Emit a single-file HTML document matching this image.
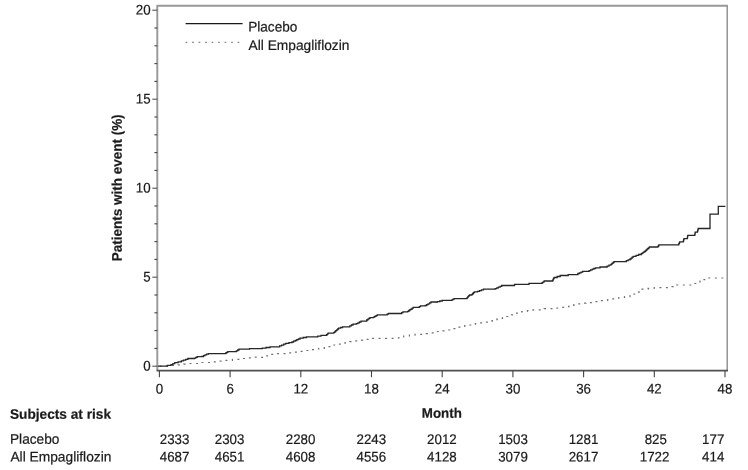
<!DOCTYPE html>
<html><head><meta charset="utf-8"><title>Kaplan-Meier</title>
<style>
html,body{margin:0;padding:0;background:#fff;}
svg{display:block;}
text{font-family:"Liberation Sans",sans-serif;font-size:13.33px;fill:#1a1a1a;stroke:#1a1a1a;stroke-width:0.2px;}
.b{font-weight:bold;}
</style></head><body>
<svg width="748" height="470" viewBox="0 0 748 470">
<rect x="0" y="0" width="748" height="470" fill="#ffffff"/>

<path d="M157.3,370.6 V5.7 H727.9" fill="none" stroke="#989898" stroke-width="1.9"/>
<path d="M727.2,5.7 V370.6" fill="none" stroke="#8c8c8c" stroke-width="1.4"/>
<line x1="156.6" y1="370.6" x2="728" y2="370.6" stroke="#505050" stroke-width="1.7"/>
<line x1="152.3" y1="366.2" x2="157.3" y2="366.2" stroke="#555" stroke-width="1.1"/>
<text transform="translate(150.6,370.5) rotate(0.03) scale(1.0,1.05)" text-anchor="end">0</text>
<line x1="154.4" y1="348.4" x2="157.3" y2="348.4" stroke="#444" stroke-width="1.1"/>
<line x1="154.4" y1="330.6" x2="157.3" y2="330.6" stroke="#444" stroke-width="1.1"/>
<line x1="154.4" y1="312.8" x2="157.3" y2="312.8" stroke="#444" stroke-width="1.1"/>
<line x1="154.4" y1="295.0" x2="157.3" y2="295.0" stroke="#444" stroke-width="1.1"/>
<line x1="152.3" y1="277.2" x2="157.3" y2="277.2" stroke="#555" stroke-width="1.1"/>
<text transform="translate(150.6,281.5) rotate(0.03) scale(1.0,1.05)" text-anchor="end">5</text>
<line x1="154.4" y1="259.4" x2="157.3" y2="259.4" stroke="#444" stroke-width="1.1"/>
<line x1="154.4" y1="241.6" x2="157.3" y2="241.6" stroke="#444" stroke-width="1.1"/>
<line x1="154.4" y1="223.8" x2="157.3" y2="223.8" stroke="#444" stroke-width="1.1"/>
<line x1="154.4" y1="206.0" x2="157.3" y2="206.0" stroke="#444" stroke-width="1.1"/>
<line x1="152.3" y1="188.2" x2="157.3" y2="188.2" stroke="#555" stroke-width="1.1"/>
<text transform="translate(150.6,192.5) rotate(0.03) scale(1.0,1.05)" text-anchor="end">10</text>
<line x1="154.4" y1="170.4" x2="157.3" y2="170.4" stroke="#444" stroke-width="1.1"/>
<line x1="154.4" y1="152.6" x2="157.3" y2="152.6" stroke="#444" stroke-width="1.1"/>
<line x1="154.4" y1="134.8" x2="157.3" y2="134.8" stroke="#444" stroke-width="1.1"/>
<line x1="154.4" y1="117.0" x2="157.3" y2="117.0" stroke="#444" stroke-width="1.1"/>
<line x1="152.3" y1="99.2" x2="157.3" y2="99.2" stroke="#555" stroke-width="1.1"/>
<text transform="translate(150.6,103.5) rotate(0.03) scale(1.0,1.05)" text-anchor="end">15</text>
<line x1="154.4" y1="81.4" x2="157.3" y2="81.4" stroke="#444" stroke-width="1.1"/>
<line x1="154.4" y1="63.6" x2="157.3" y2="63.6" stroke="#444" stroke-width="1.1"/>
<line x1="154.4" y1="45.8" x2="157.3" y2="45.8" stroke="#444" stroke-width="1.1"/>
<line x1="154.4" y1="28.0" x2="157.3" y2="28.0" stroke="#444" stroke-width="1.1"/>
<line x1="152.3" y1="10.2" x2="157.3" y2="10.2" stroke="#555" stroke-width="1.1"/>
<text transform="translate(150.6,14.5) rotate(0.03) scale(1.0,1.05)" text-anchor="end">20</text>
<line x1="159.4" y1="370.6" x2="159.4" y2="377.2" stroke="#444" stroke-width="1.1"/>
<text transform="translate(159.4,393.4) rotate(0.03) scale(1.0,1.05)" text-anchor="middle">0</text>
<line x1="230.1" y1="370.6" x2="230.1" y2="377.2" stroke="#444" stroke-width="1.1"/>
<text transform="translate(230.1,393.4) rotate(0.03) scale(1.0,1.05)" text-anchor="middle">6</text>
<line x1="300.8" y1="370.6" x2="300.8" y2="377.2" stroke="#444" stroke-width="1.1"/>
<text transform="translate(300.8,393.4) rotate(0.03) scale(1.0,1.05)" text-anchor="middle">12</text>
<line x1="371.5" y1="370.6" x2="371.5" y2="377.2" stroke="#444" stroke-width="1.1"/>
<text transform="translate(371.5,393.4) rotate(0.03) scale(1.0,1.05)" text-anchor="middle">18</text>
<line x1="442.2" y1="370.6" x2="442.2" y2="377.2" stroke="#444" stroke-width="1.1"/>
<text transform="translate(442.2,393.4) rotate(0.03) scale(1.0,1.05)" text-anchor="middle">24</text>
<line x1="512.9" y1="370.6" x2="512.9" y2="377.2" stroke="#444" stroke-width="1.1"/>
<text transform="translate(512.9,393.4) rotate(0.03) scale(1.0,1.05)" text-anchor="middle">30</text>
<line x1="583.6" y1="370.6" x2="583.6" y2="377.2" stroke="#444" stroke-width="1.1"/>
<text transform="translate(583.6,393.4) rotate(0.03) scale(1.0,1.05)" text-anchor="middle">36</text>
<line x1="654.3" y1="370.6" x2="654.3" y2="377.2" stroke="#444" stroke-width="1.1"/>
<text transform="translate(654.3,393.4) rotate(0.03) scale(1.0,1.05)" text-anchor="middle">42</text>
<line x1="725.0" y1="370.6" x2="725.0" y2="377.2" stroke="#444" stroke-width="1.1"/>
<text transform="translate(725.0,393.4) rotate(0.03) scale(1.0,1.05)" text-anchor="middle">48</text>
<text class="b" transform="translate(121.8,187.8) rotate(-89.97) scale(1.012,1.05)" text-anchor="middle">Patients with event (%)</text>
<text class="b" transform="translate(441.8,417.8) rotate(0.03) scale(1.0,1.03)" text-anchor="middle">Month</text>
<text class="b" transform="translate(10.0,418.8) rotate(0.03) scale(1.026,1.03)">Subjects at risk</text>
<text transform="translate(10.0,443.8) rotate(0.03) scale(1.027,1.05)">Placebo</text>
<text transform="translate(10.4,461.5) rotate(0.03) scale(1.034,1.05)">All Empagliflozin</text>
<text transform="translate(174.6,444.0) rotate(0.03) scale(1.0,1.05)" text-anchor="middle">2333</text>
<text transform="translate(174.6,461.5) rotate(0.03) scale(1.0,1.05)" text-anchor="middle">4687</text>
<text transform="translate(229.6,444.0) rotate(0.03) scale(1.0,1.05)" text-anchor="middle">2303</text>
<text transform="translate(229.6,461.5) rotate(0.03) scale(1.0,1.05)" text-anchor="middle">4651</text>
<text transform="translate(300.6,444.0) rotate(0.03) scale(1.0,1.05)" text-anchor="middle">2280</text>
<text transform="translate(300.6,461.5) rotate(0.03) scale(1.0,1.05)" text-anchor="middle">4608</text>
<text transform="translate(371.3,444.0) rotate(0.03) scale(1.0,1.05)" text-anchor="middle">2243</text>
<text transform="translate(371.3,461.5) rotate(0.03) scale(1.0,1.05)" text-anchor="middle">4556</text>
<text transform="translate(441.9,444.0) rotate(0.03) scale(1.0,1.05)" text-anchor="middle">2012</text>
<text transform="translate(441.9,461.5) rotate(0.03) scale(1.0,1.05)" text-anchor="middle">4128</text>
<text transform="translate(513.0,444.0) rotate(0.03) scale(1.0,1.05)" text-anchor="middle">1503</text>
<text transform="translate(513.0,461.5) rotate(0.03) scale(1.0,1.05)" text-anchor="middle">3079</text>
<text transform="translate(583.5,444.0) rotate(0.03) scale(1.0,1.05)" text-anchor="middle">1281</text>
<text transform="translate(583.5,461.5) rotate(0.03) scale(1.0,1.05)" text-anchor="middle">2617</text>
<text transform="translate(655.8,444.0) rotate(0.03) scale(1.0,1.05)" text-anchor="middle">825</text>
<text transform="translate(654.6,461.5) rotate(0.03) scale(1.0,1.05)" text-anchor="middle">1722</text>
<text transform="translate(713.2,444.0) rotate(0.03) scale(1.0,1.05)" text-anchor="middle">177</text>
<text transform="translate(713.2,461.5) rotate(0.03) scale(1.0,1.05)" text-anchor="middle">414</text>
<line x1="185.6" y1="23.7" x2="242.6" y2="23.7" stroke="#1a1a1a" stroke-width="1.3"/>
<line x1="185.6" y1="42.4" x2="242.6" y2="42.4" stroke="#858585" stroke-width="1.25" stroke-dasharray="1.7 4.8"/>
<text transform="translate(248.2,31.6) rotate(0.03) scale(1.022,1.05)">Placebo</text>
<text transform="translate(248.6,49.9) rotate(0.03) scale(1.032,1.05)">All Empagliflozin</text>
<path d="M159.6,366.1 L164.4,366.1 L171.2,366.1 L171.2,365.5 L178.0,365.5 L178.0,364.8 L183.7,364.8 L183.7,364.1 L189.3,364.1 L189.3,363.5 L201.0,363.5 L201.0,362.5 L213.6,362.5 L213.6,361.8 L219.2,361.8 L219.2,361.1 L224.8,361.1 L224.8,360.4 L232.4,360.4 L232.4,359.4 L240.0,359.4 L240.0,358.5 L247.2,358.5 L247.2,357.9 L254.3,357.9 L254.3,357.2 L260.0,357.2 L260.0,357.3 L262.5,357.3 L262.5,356.6 L265.0,356.6 L265.0,355.9 L267.5,355.9 L267.5,355.1 L270.0,355.1 L270.0,354.4 L276.0,354.4 L276.0,353.7 L284.9,353.7 L284.9,352.9 L293.7,352.9 L293.7,352.1 L298.5,352.1 L298.5,351.3 L303.2,351.3 L303.2,350.5 L308.0,350.5 L308.0,349.7 L313.4,349.7 L313.4,349.0 L318.8,349.0 L318.8,348.3 L324.2,348.3 L324.2,347.6 L327.0,347.6 L327.0,346.7 L329.8,346.7 L329.8,345.9 L332.6,345.9 L332.6,345.0 L335.4,345.0 L335.4,344.1 L340.2,344.1 L340.2,343.3 L345.0,343.3 L345.0,342.5 L349.8,342.5 L349.8,341.7 L354.1,341.7 L354.1,340.9 L358.4,340.9 L358.4,340.1 L362.7,340.1 L362.7,339.3 L372.3,339.3 L372.3,338.3 L394.0,338.3 L394.0,338.0 L398.9,338.0 L398.9,337.0 L403.7,337.0 L403.7,336.0 L409.4,336.0 L409.4,335.2 L415.0,335.2 L415.0,334.4 L426.2,334.4 L426.2,333.6 L429.9,333.6 L429.9,332.9 L433.7,332.9 L433.7,332.2 L437.4,332.2 L437.4,331.5 L443.0,331.5 L443.0,330.8 L448.6,330.8 L448.6,330.0 L451.0,330.0 L451.0,329.3 L453.4,329.3 L453.4,328.6 L455.8,328.6 L455.8,327.8 L458.2,327.8 L458.2,327.1 L461.4,327.1 L461.4,326.4 L464.7,326.4 L464.7,325.7 L467.9,325.7 L467.9,325.0 L471.6,325.0 L471.6,324.3 L475.3,324.3 L475.3,323.5 L479.0,323.5 L479.0,322.8 L484.3,322.8 L484.3,322.1 L489.6,322.1 L489.6,321.3 L492.0,321.3 L492.0,320.6 L494.5,320.6 L494.5,319.9 L496.9,319.9 L496.9,319.1 L499.3,319.1 L499.3,318.4 L502.5,318.4 L502.5,317.5 L505.7,317.5 L505.7,316.5 L508.9,316.5 L508.9,315.6 L511.5,315.6 L511.5,314.8 L514.0,314.8 L514.0,314.0 L516.6,314.0 L516.6,313.1 L519.1,313.1 L519.1,312.3 L521.7,312.3 L521.7,311.5 L527.4,311.5 L527.4,310.7 L533.0,310.7 L533.0,309.9 L544.2,309.9 L544.2,308.7 L557.0,308.7 L557.0,308.0 L561.8,308.0 L561.8,307.4 L566.6,307.4 L566.6,306.7 L569.0,306.7 L569.0,306.0 L571.5,306.0 L571.5,305.3 L573.9,305.3 L573.9,304.6 L576.3,304.6 L576.3,303.9 L581.1,303.9 L581.1,303.2 L585.9,303.2 L585.9,302.6 L593.0,302.6 L593.0,301.6 L600.0,301.6 L600.0,300.6 L607.6,300.6 L607.6,299.6 L611.4,299.6 L611.4,298.9 L615.1,298.9 L615.1,298.2 L618.9,298.2 L618.9,297.5 L624.5,297.5 L624.5,296.6 L630.0,296.6 L630.0,295.6 L632.0,295.6 L632.0,294.8 L634.0,294.8 L634.0,294.0 L636.0,294.0 L636.0,293.2 L638.0,293.2 L638.0,292.4 L639.0,292.4 L639.0,291.6 L640.0,291.6 L640.0,290.8 L641.0,290.8 L641.0,290.0 L642.0,290.0 L642.0,289.2 L648.1,289.2 L648.1,288.4 L654.2,288.4 L654.2,287.6 L667.0,287.6 L670.2,287.6 L670.2,286.7 L673.3,286.7 L673.3,285.9 L676.5,285.9 L676.5,285.0 L689.3,285.0 L691.4,285.0 L691.4,284.2 L693.6,284.2 L693.6,283.5 L695.7,283.5 L695.7,282.7 L697.9,282.7 L697.9,282.0 L700.0,282.0 L700.0,281.2 L701.6,281.2 L701.6,280.4 L703.1,280.4 L703.1,279.6 L704.7,279.6 L704.7,278.8 L706.3,278.8 L706.3,278.0 L723.5,278.0" fill="none" stroke="#707070" stroke-width="1.2" stroke-dasharray="2 4.5"/>
<path d="M157.8,366.1 L163.8,366.1 L167.4,366.1 L167.4,365.4 L171.0,365.4 L171.0,364.6 L172.9,364.6 L172.9,363.6 L174.8,363.6 L174.8,362.7 L178.1,362.7 L178.1,361.8 L181.3,361.8 L181.3,360.9 L183.5,360.9 L183.5,360.1 L185.7,360.1 L185.7,359.3 L187.9,359.3 L187.9,358.5 L194.4,358.5 L194.4,358.1 L195.8,358.1 L195.8,357.4 L197.2,357.4 L197.2,356.7 L201.9,356.7 L201.9,356.5 L203.5,356.5 L203.5,355.7 L205.0,355.7 L205.0,354.9 L206.6,354.9 L206.6,354.1 L208.4,354.1 L208.4,353.7 L224.6,353.7 L225.7,353.7 L225.7,353.0 L226.7,353.0 L226.7,352.3 L227.8,352.3 L227.8,351.6 L235.0,351.6 L236.3,351.6 L236.3,350.8 L237.7,350.8 L237.7,350.0 L239.0,350.0 L239.0,349.2 L249.5,349.2 L249.5,348.6 L262.3,348.6 L262.3,348.2 L266.1,348.2 L266.1,347.5 L270.0,347.5 L270.0,346.9 L277.6,346.9 L277.6,346.8 L279.6,346.8 L279.6,345.9 L281.6,345.9 L281.6,345.1 L283.7,345.1 L283.7,344.2 L285.7,344.2 L285.7,343.3 L288.9,343.3 L288.9,342.6 L292.0,342.6 L292.0,342.0 L293.6,342.0 L293.6,341.2 L295.2,341.2 L295.2,340.5 L296.8,340.5 L296.8,339.7 L298.4,339.7 L298.4,339.0 L300.0,339.0 L300.0,338.2 L303.2,338.2 L303.2,337.5 L306.5,337.5 L306.5,336.9 L314.5,336.9 L317.8,336.9 L317.8,336.1 L321.0,336.1 L321.0,335.3 L325.8,335.3 L326.6,335.3 L326.6,334.6 L327.4,334.6 L327.4,333.9 L328.2,333.9 L328.2,333.2 L333.0,333.2 L333.9,333.2 L333.9,332.4 L334.9,332.4 L334.9,331.5 L335.8,331.5 L335.8,330.6 L336.7,330.6 L336.7,329.8 L337.7,329.8 L337.7,329.0 L338.6,329.0 L338.6,328.1 L340.6,328.1 L340.6,327.5 L342.6,327.5 L342.6,326.8 L348.2,326.8 L349.8,326.8 L349.8,325.9 L351.4,325.9 L351.4,325.0 L353.0,325.0 L353.0,324.1 L356.3,324.1 L356.3,323.7 L357.9,323.7 L357.9,322.9 L359.4,322.9 L359.4,322.0 L361.0,322.0 L361.0,321.2 L366.7,321.2 L366.7,320.0 L367.8,320.0 L367.8,319.2 L368.9,319.2 L368.9,318.4 L370.0,318.4 L370.0,317.6 L373.5,317.6 L373.5,317.2 L374.7,317.2 L374.7,316.4 L376.0,316.4 L376.0,315.6 L377.2,315.6 L377.2,314.8 L386.0,314.8 L387.2,314.8 L387.2,314.1 L388.4,314.1 L388.4,313.5 L400.5,313.5 L401.7,313.5 L401.7,312.7 L402.9,312.7 L402.9,311.9 L407.7,311.9 L407.7,311.3 L408.8,311.3 L408.8,310.5 L409.9,310.5 L409.9,309.7 L411.1,309.7 L411.1,309.0 L412.2,309.0 L412.2,308.2 L413.3,308.2 L413.3,307.4 L418.1,307.4 L419.3,307.4 L419.3,306.6 L420.5,306.6 L420.5,305.8 L425.3,305.8 L425.3,305.5 L426.7,305.5 L426.7,304.6 L428.1,304.6 L428.1,303.8 L429.6,303.8 L429.6,302.9 L431.0,302.9 L431.0,302.0 L437.4,302.0 L437.4,301.6 L439.8,301.6 L439.8,301.0 L442.2,301.0 L442.2,300.3 L451.8,300.3 L451.8,299.9 L453.0,299.9 L453.0,299.2 L454.2,299.2 L454.2,298.6 L466.3,298.6 L466.9,298.6 L466.9,297.9 L467.6,297.9 L467.6,297.2 L468.2,297.2 L468.2,296.4 L468.9,296.4 L468.9,295.7 L469.5,295.7 L469.5,295.0 L471.9,295.0 L471.9,294.3 L472.7,294.3 L472.7,293.5 L473.5,293.5 L473.5,292.6 L474.3,292.6 L474.3,291.8 L477.5,291.8 L477.5,291.4 L479.5,291.4 L479.5,290.6 L481.5,290.6 L481.5,289.9 L483.5,289.9 L483.5,289.1 L495.2,289.1 L495.2,288.7 L496.8,288.7 L496.8,287.9 L498.4,287.9 L498.4,287.1 L500.1,287.1 L500.1,286.3 L501.7,286.3 L501.7,285.5 L512.0,285.5 L514.5,285.5 L514.5,284.4 L526.5,284.4 L529.0,284.4 L529.0,283.4 L541.0,283.4 L542.1,283.4 L542.1,282.6 L543.1,282.6 L543.1,281.8 L544.2,281.8 L544.2,281.0 L552.2,281.0 L552.7,281.0 L552.7,280.1 L553.2,280.1 L553.2,279.2 L553.6,279.2 L553.6,278.4 L554.1,278.4 L554.1,277.5 L557.2,277.5 L557.2,276.5 L560.2,276.5 L560.2,275.5 L568.2,275.5 L568.2,274.6 L577.9,274.6 L577.9,273.5 L579.5,273.5 L579.5,272.8 L581.1,272.8 L581.1,272.1 L582.7,272.1 L582.7,271.4 L589.1,271.4 L589.1,270.6 L590.7,270.6 L590.7,269.9 L592.3,269.9 L592.3,269.2 L593.9,269.2 L593.9,268.5 L595.5,268.5 L595.5,267.8 L600.0,267.8 L600.0,267.0 L605.2,267.0 L607.1,267.0 L607.1,266.1 L609.0,266.1 L609.0,265.2 L610.9,265.2 L610.9,264.3 L611.9,264.3 L611.9,263.4 L613.0,263.4 L613.0,262.5 L614.0,262.5 L614.0,261.6 L624.5,261.6 L626.3,261.6 L626.3,260.7 L628.2,260.7 L628.2,259.9 L630.0,259.9 L630.0,259.0 L631.1,259.0 L631.1,258.1 L632.2,258.1 L632.2,257.2 L633.3,257.2 L633.3,256.3 L636.0,256.3 L636.0,255.4 L638.6,255.4 L638.6,254.5 L641.3,254.5 L641.3,253.6 L642.4,253.6 L642.4,252.9 L643.4,252.9 L643.4,252.2 L644.5,252.2 L644.5,251.5 L645.3,251.5 L645.3,250.8 L646.1,250.8 L646.1,250.0 L647.0,250.0 L647.0,249.2 L647.8,249.2 L647.8,248.5 L648.6,248.5 L648.6,247.8 L649.4,247.8 L649.4,247.0 L657.4,247.0 L657.9,247.0 L657.9,246.3 L658.5,246.3 L658.5,245.5 L659.0,245.5 L659.0,244.8 L678.4,244.8 L678.7,244.8 L678.7,244.1 L679.0,244.1 L679.0,243.3 L679.4,243.3 L679.4,242.6 L679.7,242.6 L679.7,241.8 L683.3,241.8 L683.3,241.4 L683.5,241.4 L683.5,240.7 L683.6,240.7 L683.6,240.0 L683.8,240.0 L683.8,239.3 L684.0,239.3 L684.0,238.6 L687.2,238.6 L687.4,238.6 L687.4,237.8 L687.5,237.8 L687.5,237.0 L687.6,237.0 L687.6,236.2 L687.8,236.2 L687.8,235.4 L694.6,235.4 L694.8,235.4 L694.8,234.6 L694.9,234.6 L694.9,233.8 L695.1,233.8 L695.1,233.0 L695.2,233.0 L695.2,232.2 L697.4,232.2 L697.4,231.6 L697.6,231.6 L697.6,230.8 L697.8,230.8 L697.8,230.1 L698.0,230.1 L698.0,229.3 L698.2,229.3 L698.2,228.5 L710.0,228.5 L710.0,214.1 L718.3,214.1 L718.3,206.3 L725.4,206.3" fill="none" stroke="#262626" stroke-width="1.3" stroke-linejoin="miter"/>
</svg></body></html>
